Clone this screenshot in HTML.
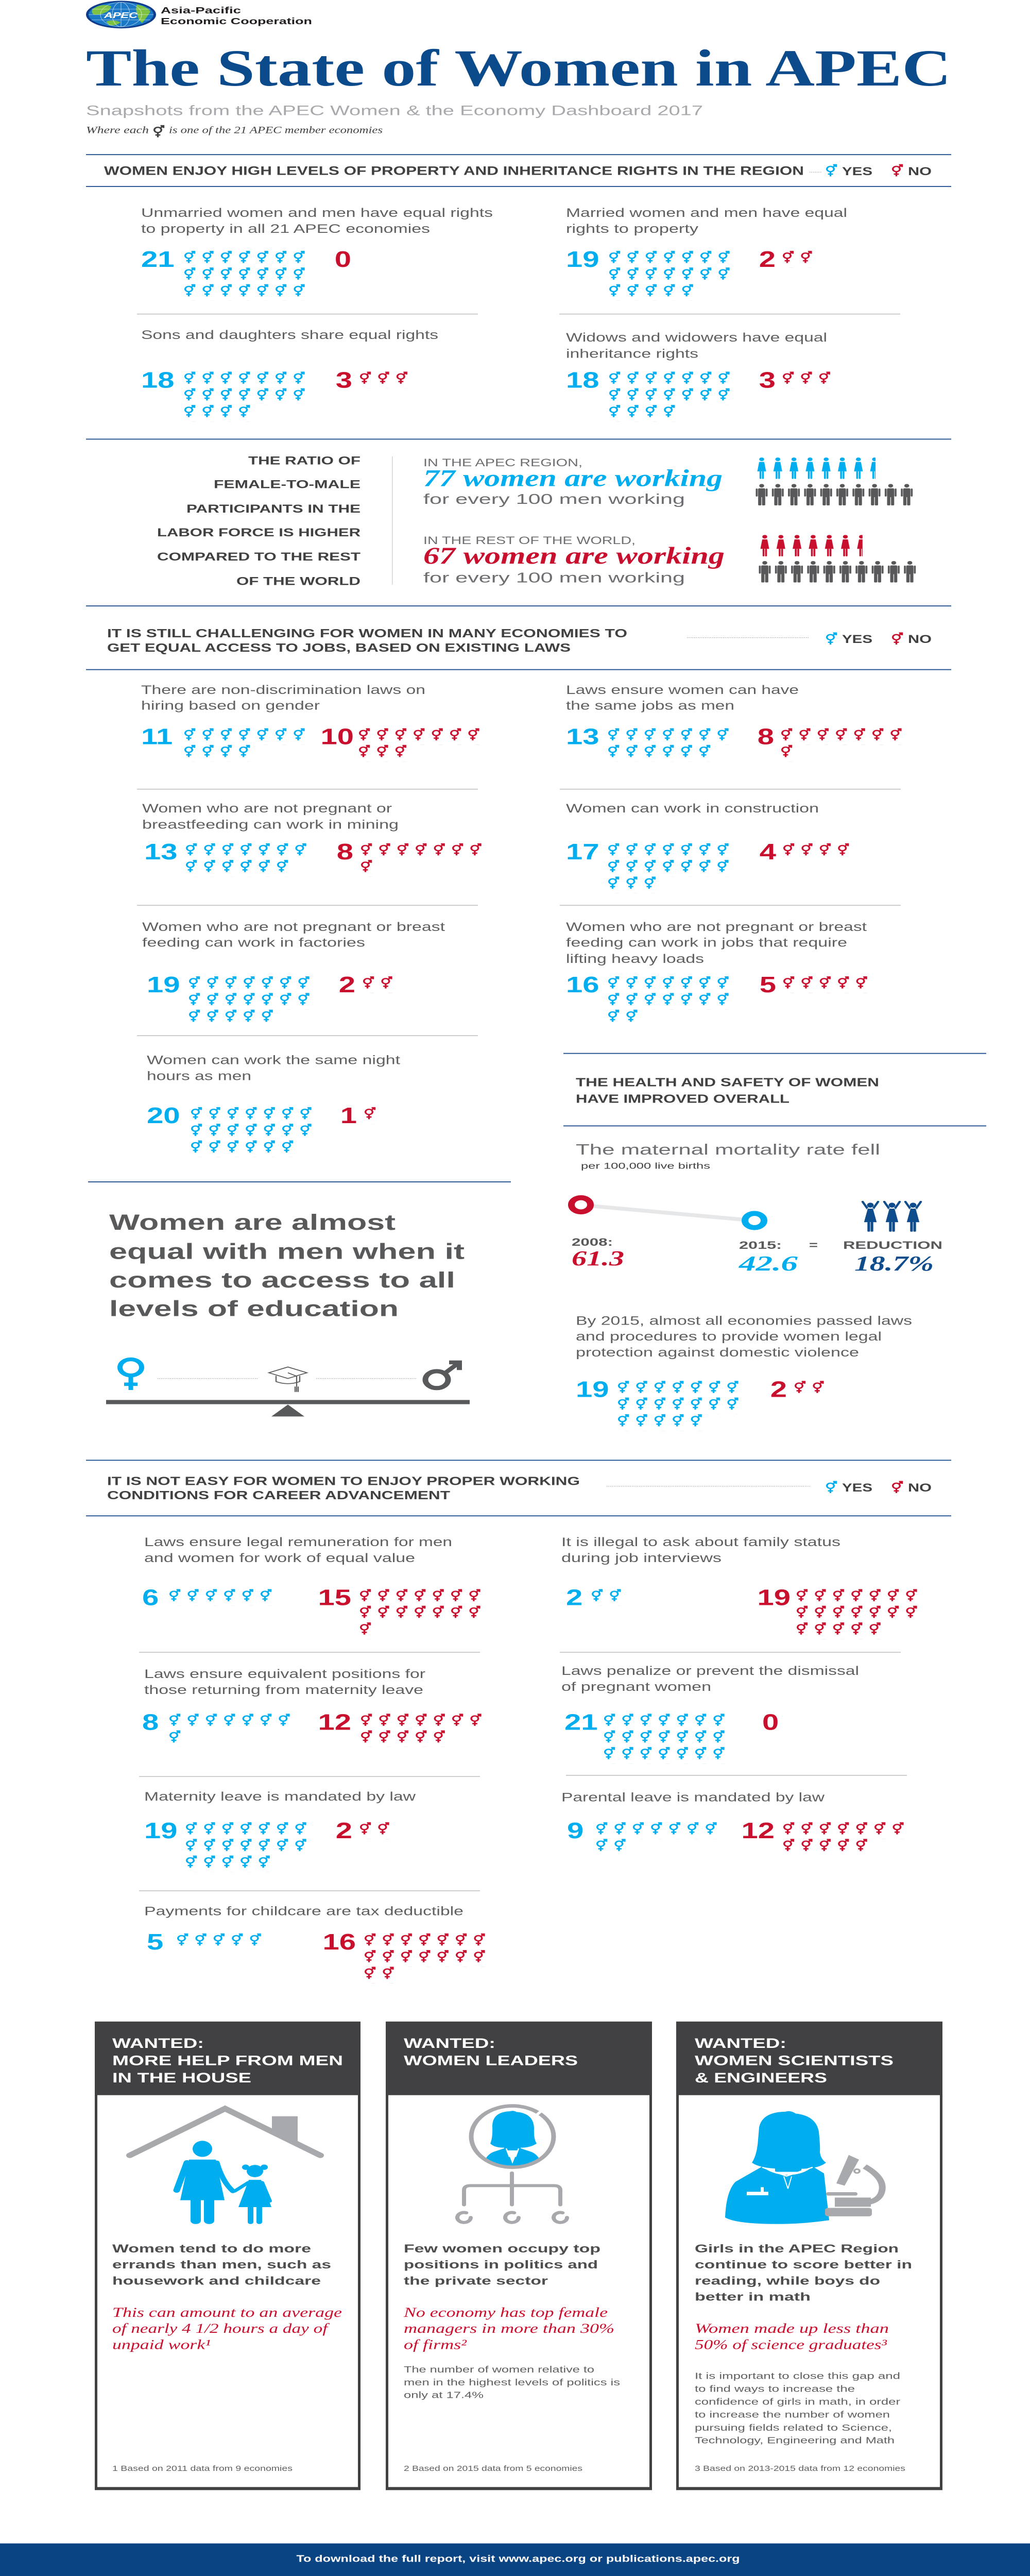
<!DOCTYPE html>
<html>
<head>
<meta charset="utf-8">
<style>
html,body{margin:0;padding:0;background:#fff;width:100%;height:100%;overflow:hidden;}
svg.page{display:block;position:fixed;left:0;top:0;width:100vw;height:100vh;}
.t{font-family:"Liberation Sans",Arial,sans-serif;font-size:32px;fill:#5f6062;}
.h{font-family:"Liberation Sans",Arial,sans-serif;font-weight:bold;fill:#414042;}
.nb{font-family:"Liberation Sans",Arial,sans-serif;font-weight:bold;font-size:58px;fill:#00aeef;}
.nr{font-family:"Liberation Sans",Arial,sans-serif;font-weight:bold;font-size:58px;fill:#c8102e;}
.ri{font-family:"Liberation Serif","Times New Roman",serif;font-style:italic;font-size:36px;fill:#c8102e;}
.bi{font-family:"Liberation Serif","Times New Roman",serif;font-style:italic;font-weight:bold;}
.wh{font-family:"Liberation Sans",Arial,sans-serif;font-weight:bold;font-size:36px;fill:#fff;}
.bx{font-family:"Liberation Sans",Arial,sans-serif;font-weight:bold;font-size:30px;fill:#4d4d4f;}
.sm{font-family:"Liberation Sans",Arial,sans-serif;font-size:24px;fill:#5f6062;}
.fn{font-family:"Liberation Sans",Arial,sans-serif;font-size:20px;fill:#5f6062;}
</style>
</head>
<body>
<svg class="page" width="2000" height="6718" viewBox="0 0 2000 6718" preserveAspectRatio="none" xmlns="http://www.w3.org/2000/svg">
<defs>
  <symbol id="gi" viewBox="0 0 23 32">
    <g fill="none" stroke-width="3.4">
      <circle cx="9.5" cy="12.8" r="6.8"/>
      <path d="M14.3 8 L20.5 1.8 M14.6 1.8 H20.5 V7.7 M9.5 19.6 V32 M4.6 26 H14.4"/>
    </g>
  </symbol>
  <pattern id="pb" width="35.4" height="43.5" patternUnits="userSpaceOnUse">
    <use href="#gi" width="23" height="32" stroke="#00aeef"/>
  </pattern>
  <pattern id="pr" width="35.4" height="43.5" patternUnits="userSpaceOnUse">
    <use href="#gi" width="23" height="32" stroke="#c8102e"/>
  </pattern>
  <symbol id="wom" viewBox="0 0 25 56">
    <circle cx="12.5" cy="4.8" r="4.8"/>
    <path d="M6.4 13 L1.8 29 M18.6 13 L23.2 29" stroke-width="3.2" stroke-linecap="round" fill="none"/>
    <path d="M8.4 11 H16.6 Q17.8 11 18.2 12.5 L21.8 37 H3.2 L6.8 12.5 Q7.2 11 8.4 11Z" stroke="#fff" stroke-width="1.3"/>
    <rect x="8.3" y="36" width="3.6" height="20" rx="1.6"/>
    <rect x="13.1" y="36" width="3.6" height="20" rx="1.6"/>
  </symbol>
  <symbol id="man" viewBox="0 0 25 56">
    <circle cx="12.5" cy="4.8" r="4.8"/>
    <rect x="5.4" y="11.5" width="14.2" height="23" rx="2.5"/>
    <rect x="1" y="12" width="3.7" height="21" rx="1.8"/>
    <rect x="20.3" y="12" width="3.7" height="21" rx="1.8"/>
    <rect x="5.6" y="33" width="6.3" height="23" rx="2"/>
    <rect x="13.1" y="33" width="6.3" height="23" rx="2"/>
  </symbol>
  <pattern id="pwb" width="31.3" height="60" patternUnits="userSpaceOnUse">
    <use href="#wom" width="25" height="56" fill="#00aeef"/>
  </pattern>
  <pattern id="pwr" width="31.3" height="60" patternUnits="userSpaceOnUse">
    <use href="#wom" width="25" height="56" fill="#c8102e"/>
  </pattern>
  <pattern id="pm" width="31.3" height="60" patternUnits="userSpaceOnUse">
    <use href="#man" width="25" height="56" fill="#58585a"/>
  </pattern>
  <symbol id="wup" viewBox="0 0 40 80">
    <circle cx="20" cy="11" r="6"/>
    <path d="M15.5 22 L5 2 M24.5 22 L35 2" stroke-width="4.6" stroke-linecap="round" fill="none"/>
    <path d="M14.5 19.5 H25.5 L33 56 H7 Z" stroke="#fff" stroke-width="1.2"/>
    <rect x="14.8" y="55" width="4.2" height="25" rx="1.6"/>
    <rect x="21" y="55" width="4.2" height="25" rx="1.6"/>
  </symbol>
  <clipPath id="ov"><ellipse cx="995" cy="5572" rx="76" ry="76"/></clipPath>
</defs>

<rect x="0" y="0" width="2000" height="6718" fill="#fff"/>

<!-- ============ HEADER ============ -->
<ellipse cx="235" cy="38" rx="68" ry="36" fill="#0d3c8c"/>
<ellipse cx="235" cy="38" rx="63" ry="32" fill="#1b78c6"/>
<path d="M180 24 Q196 8 216 16 Q214 28 204 33 Q194 40 182 38 Q176 32 180 24Z" fill="#7dc242"/>
<path d="M266 12 Q284 16 292 30 Q286 44 276 60 Q268 52 267 38 Q262 24 266 12Z" fill="#7dc242"/>
<path d="M206 56 Q222 50 234 58 Q226 68 212 66Z" fill="#7dc242"/>
<g fill="none" stroke="#fff" stroke-opacity="0.55" stroke-width="1.2">
<ellipse cx="235" cy="38" rx="40" ry="32"/><ellipse cx="235" cy="38" rx="17" ry="32"/>
<path d="M172 38 H298 M178 24 H292 M178 52 H292 M235 6 V70"/>
</g>
<text x="202" y="47" font-family="Liberation Sans, Arial, sans-serif" font-weight="bold" font-style="italic" font-size="21" fill="#fff" textLength="65" lengthAdjust="spacingAndGlyphs">APEC</text>
<text x="312" y="35" class="h" font-size="24" style="fill:#231f20" textLength="156" lengthAdjust="spacingAndGlyphs">Asia-Pacific</text>
<text x="312" y="63" class="h" font-size="24" style="fill:#231f20" textLength="294" lengthAdjust="spacingAndGlyphs">Economic Cooperation</text>

<text x="167" y="223" font-family="Liberation Serif, Times New Roman, serif" font-weight="bold" font-size="136" fill="#0b4a8b" textLength="1680" lengthAdjust="spacingAndGlyphs">The State of Women in APEC</text>

<text x="167" y="300" font-family="Liberation Sans, Arial, sans-serif" font-size="36" fill="#a7a9ac" textLength="1198" lengthAdjust="spacingAndGlyphs">Snapshots from the APEC Women &amp; the Economy Dashboard 2017</text>

<text x="167" y="347" font-family="Liberation Serif, Times New Roman, serif" font-style="italic" font-size="25" fill="#414042" textLength="122" lengthAdjust="spacingAndGlyphs">Where each</text>
<use href="#gi" x="297" y="326" width="23" height="32" stroke="#414042"/>
<text x="328" y="347" font-family="Liberation Serif, Times New Roman, serif" font-style="italic" font-size="25" fill="#414042" textLength="415" lengthAdjust="spacingAndGlyphs">is one of the 21 APEC member economies</text>

<!-- ============ SECTION 1 ============ -->
<rect x="167" y="402" width="1680" height="2.5" fill="#1f4f8f"/>
<text x="202" y="456" class="h" font-size="32" textLength="1359" lengthAdjust="spacingAndGlyphs">WOMEN ENJOY HIGH LEVELS OF PROPERTY AND INHERITANCE RIGHTS IN THE REGION</text>
<line x1="1572" y1="449" x2="1596" y2="449" stroke="#9a9a9a" stroke-width="1.5" stroke-dasharray="1.5 2"/>
<use href="#gi" x="1603" y="428" width="23" height="32" stroke="#00aeef"/>
<text x="1635" y="457" class="h" font-size="30" textLength="59" lengthAdjust="spacingAndGlyphs">YES</text>
<use href="#gi" x="1731" y="428" width="23" height="32" stroke="#c8102e"/>
<text x="1763" y="457" class="h" font-size="30" textLength="46" lengthAdjust="spacingAndGlyphs">NO</text>
<rect x="167" y="485" width="1680" height="2.5" fill="#1f4f8f"/>

<text class="t" x="274" y="566" textLength="683" lengthAdjust="spacingAndGlyphs">Unmarried women and men have equal rights</text>
<text class="t" x="274" y="607" textLength="561" lengthAdjust="spacingAndGlyphs">to property in all 21 APEC economies</text>
<text class="nb" x="274" y="696">21</text>
<g transform="translate(357,654)"><rect width="247.8" height="130.5" fill="url(#pb)"/></g>
<text class="nr" x="682" y="696" text-anchor="end">0</text>

<text class="t" x="1099" y="566" textLength="546" lengthAdjust="spacingAndGlyphs">Married women and men have equal</text>
<text class="t" x="1099" y="607" textLength="257" lengthAdjust="spacingAndGlyphs">rights to property</text>
<text class="nb" x="1099" y="696">19</text>
<g transform="translate(1182,654)"><rect width="247.8" height="87" fill="url(#pb)"/><rect y="87" width="177" height="43.5" fill="url(#pb)"/></g>
<text class="nr" x="1506" y="696" text-anchor="end">2</text>
<g transform="translate(1519,654)"><rect width="70.8" height="43.5" fill="url(#pr)"/></g>

<rect x="266" y="818" width="662" height="2" fill="#bcbec0"/>
<rect x="1086" y="818" width="662" height="2" fill="#bcbec0"/>

<text class="t" x="274" y="884" textLength="577" lengthAdjust="spacingAndGlyphs">Sons and daughters share equal rights</text>
<text class="nb" x="274" y="1011">18</text>
<g transform="translate(357,969)"><rect width="247.8" height="87" fill="url(#pb)"/><rect y="87" width="141.6" height="43.5" fill="url(#pb)"/></g>
<text class="nr" x="684" y="1011" text-anchor="end">3</text>
<g transform="translate(698,969)"><rect width="106.2" height="43.5" fill="url(#pr)"/></g>

<text class="t" x="1099" y="891" textLength="507" lengthAdjust="spacingAndGlyphs">Widows and widowers have equal</text>
<text class="t" x="1099" y="933" textLength="257" lengthAdjust="spacingAndGlyphs">inheritance rights</text>
<text class="nb" x="1099" y="1011">18</text>
<g transform="translate(1182,969)"><rect width="247.8" height="87" fill="url(#pb)"/><rect y="87" width="141.6" height="43.5" fill="url(#pb)"/></g>
<text class="nr" x="1506" y="1011" text-anchor="end">3</text>
<g transform="translate(1519,969)"><rect width="106.2" height="43.5" fill="url(#pr)"/></g>

<!-- ============ SECTION 2 : RATIO ============ -->
<rect x="167" y="1144" width="1680" height="2.5" fill="#1f4f8f"/>
<g class="h" font-size="30" text-anchor="end">
<text x="700" y="1211" textLength="218" lengthAdjust="spacingAndGlyphs">THE RATIO OF</text>
<text x="700" y="1273" textLength="285" lengthAdjust="spacingAndGlyphs">FEMALE-TO-MALE</text>
<text x="700" y="1337" textLength="338" lengthAdjust="spacingAndGlyphs">PARTICIPANTS IN THE</text>
<text x="700" y="1399" textLength="395" lengthAdjust="spacingAndGlyphs">LABOR FORCE IS HIGHER</text>
<text x="700" y="1462" textLength="395" lengthAdjust="spacingAndGlyphs">COMPARED TO THE REST</text>
<text x="700" y="1526" textLength="241" lengthAdjust="spacingAndGlyphs">OF THE WORLD</text>
</g>
<rect x="761" y="1190" width="1.5" height="335" fill="#d1d3d4"/>

<text x="822" y="1216" font-family="Liberation Sans, Arial, sans-serif" font-size="29" fill="#6d6e71" textLength="309" lengthAdjust="spacingAndGlyphs">IN THE APEC REGION,</text>
<text x="822" y="1268" class="bi" font-size="62" fill="#00aeef" textLength="581" lengthAdjust="spacingAndGlyphs">77 women are working</text>
<text x="822" y="1314" font-family="Liberation Sans, Arial, sans-serif" font-size="37" fill="#6d6e71" textLength="508" lengthAdjust="spacingAndGlyphs">for every 100 men working</text>
<g transform="translate(1466.5,1193)"><rect width="233.6" height="57" fill="url(#pwb)"/></g>
<g transform="translate(1466.5,1262)"><rect width="313" height="57" fill="url(#pm)"/></g>

<text x="822" y="1419" font-family="Liberation Sans, Arial, sans-serif" font-size="29" fill="#6d6e71" textLength="412" lengthAdjust="spacingAndGlyphs">IN THE REST OF THE WORLD,</text>
<text x="822" y="1470" class="bi" font-size="62" fill="#c8102e" textLength="585" lengthAdjust="spacingAndGlyphs">67 women are working</text>
<text x="822" y="1519" font-family="Liberation Sans, Arial, sans-serif" font-size="37" fill="#6d6e71" textLength="508" lengthAdjust="spacingAndGlyphs">for every 100 men working</text>
<g transform="translate(1472.5,1395)"><rect width="202.3" height="57" fill="url(#pwr)"/></g>
<g transform="translate(1472.5,1463)"><rect width="313" height="57" fill="url(#pm)"/></g>

<!-- ============ SECTION 3 : JOBS ============ -->
<rect x="167" y="1579" width="1680" height="2.5" fill="#1f4f8f"/>
<text x="208" y="1662" class="h" font-size="31" textLength="1010" lengthAdjust="spacingAndGlyphs">IT IS STILL CHALLENGING FOR WOMEN IN MANY ECONOMIES TO</text>
<text x="208" y="1700" class="h" font-size="31" textLength="900" lengthAdjust="spacingAndGlyphs">GET EQUAL ACCESS TO JOBS, BASED ON EXISTING LAWS</text>
<line x1="1334" y1="1663" x2="1572" y2="1663" stroke="#9a9a9a" stroke-width="1.5" stroke-dasharray="1.5 2"/>
<use href="#gi" x="1603" y="1649" width="23" height="32" stroke="#00aeef"/>
<text x="1635" y="1677" class="h" font-size="30" textLength="59" lengthAdjust="spacingAndGlyphs">YES</text>
<use href="#gi" x="1731" y="1649" width="23" height="32" stroke="#c8102e"/>
<text x="1763" y="1677" class="h" font-size="30" textLength="46" lengthAdjust="spacingAndGlyphs">NO</text>
<rect x="167" y="1745" width="1680" height="2.5" fill="#1f4f8f"/>

<text class="t" x="274" y="1810" textLength="552" lengthAdjust="spacingAndGlyphs">There are non-discrimination laws on</text>
<text class="t" x="274" y="1851" textLength="347" lengthAdjust="spacingAndGlyphs">hiring based on gender</text>
<text class="nb" x="274" y="1941">11</text>
<g transform="translate(357,1899)"><rect width="247.8" height="43.5" fill="url(#pb)"/><rect y="43.5" width="141.6" height="43.5" fill="url(#pb)"/></g>
<text class="nr" x="687" y="1941" text-anchor="end">10</text>
<g transform="translate(696,1899)"><rect width="247.8" height="43.5" fill="url(#pr)"/><rect y="43.5" width="106.2" height="43.5" fill="url(#pr)"/></g>

<text class="t" x="1099" y="1810" textLength="452" lengthAdjust="spacingAndGlyphs">Laws ensure women can have</text>
<text class="t" x="1099" y="1851" textLength="327" lengthAdjust="spacingAndGlyphs">the same jobs as men</text>
<text class="nb" x="1099" y="1941">13</text>
<g transform="translate(1180,1899)"><rect width="247.8" height="43.5" fill="url(#pb)"/><rect y="43.5" width="212.4" height="43.5" fill="url(#pb)"/></g>
<text class="nr" x="1503" y="1941" text-anchor="end">8</text>
<g transform="translate(1516,1899)"><rect width="247.8" height="43.5" fill="url(#pr)"/><rect y="43.5" width="35.4" height="43.5" fill="url(#pr)"/></g>

<rect x="266" y="2057" width="662" height="2" fill="#bcbec0"/>
<rect x="1087" y="2057" width="662" height="2" fill="#bcbec0"/>

<text class="t" x="276" y="2119" textLength="485" lengthAdjust="spacingAndGlyphs">Women who are not pregnant or</text>
<text class="t" x="276" y="2161" textLength="498" lengthAdjust="spacingAndGlyphs">breastfeeding can work in mining</text>
<text class="nb" x="280" y="2241">13</text>
<g transform="translate(360,2199)"><rect width="247.8" height="43.5" fill="url(#pb)"/><rect y="43.5" width="212.4" height="43.5" fill="url(#pb)"/></g>
<text class="nr" x="686" y="2241" text-anchor="end">8</text>
<g transform="translate(700,2199)"><rect width="247.8" height="43.5" fill="url(#pr)"/><rect y="43.5" width="35.4" height="43.5" fill="url(#pr)"/></g>

<text class="t" x="1099" y="2119" textLength="491" lengthAdjust="spacingAndGlyphs">Women can work in construction</text>
<text class="nb" x="1099" y="2241">17</text>
<g transform="translate(1180,2199)"><rect width="247.8" height="87" fill="url(#pb)"/><rect y="87" width="106.2" height="43.5" fill="url(#pb)"/></g>
<text class="nr" x="1507" y="2241" text-anchor="end">4</text>
<g transform="translate(1520,2199)"><rect width="141.6" height="43.5" fill="url(#pr)"/></g>

<rect x="266" y="2360" width="662" height="2" fill="#bcbec0"/>
<rect x="1087" y="2360" width="662" height="2" fill="#bcbec0"/>

<text class="t" x="276" y="2428" textLength="588" lengthAdjust="spacingAndGlyphs">Women who are not pregnant or breast</text>
<text class="t" x="276" y="2469" textLength="433" lengthAdjust="spacingAndGlyphs">feeding can work in factories</text>
<text class="nb" x="285" y="2588">19</text>
<g transform="translate(366,2546)"><rect width="247.8" height="87" fill="url(#pb)"/><rect y="87" width="177" height="43.5" fill="url(#pb)"/></g>
<text class="nr" x="690" y="2588" text-anchor="end">2</text>
<g transform="translate(704,2546)"><rect width="70.8" height="43.5" fill="url(#pr)"/></g>

<text class="t" x="1099" y="2428" textLength="584" lengthAdjust="spacingAndGlyphs">Women who are not pregnant or breast</text>
<text class="t" x="1099" y="2469" textLength="546" lengthAdjust="spacingAndGlyphs">feeding can work in jobs that require</text>
<text class="t" x="1099" y="2511" textLength="268" lengthAdjust="spacingAndGlyphs">lifting heavy loads</text>
<text class="nb" x="1099" y="2588">16</text>
<g transform="translate(1180,2546)"><rect width="247.8" height="87" fill="url(#pb)"/><rect y="87" width="70.8" height="43.5" fill="url(#pb)"/></g>
<text class="nr" x="1507" y="2588" text-anchor="end">5</text>
<g transform="translate(1520,2546)"><rect width="177" height="43.5" fill="url(#pr)"/></g>

<rect x="266" y="2700" width="662" height="2" fill="#bcbec0"/>

<text class="t" x="285" y="2775" textLength="492" lengthAdjust="spacingAndGlyphs">Women can work the same night</text>
<text class="t" x="285" y="2817" textLength="203" lengthAdjust="spacingAndGlyphs">hours as men</text>
<text class="nb" x="285" y="2929">20</text>
<g transform="translate(370,2887)"><rect width="247.8" height="87" fill="url(#pb)"/><rect y="87" width="212.4" height="43.5" fill="url(#pb)"/></g>
<text class="nr" x="693" y="2929" text-anchor="end">1</text>
<g transform="translate(707,2887)"><rect width="35.4" height="43.5" fill="url(#pr)"/></g>

<!-- Health heading -->
<rect x="1094" y="2746" width="821" height="2.5" fill="#1f4f8f"/>
<text x="1118" y="2833" class="h" font-size="31" textLength="589" lengthAdjust="spacingAndGlyphs">THE HEALTH AND SAFETY OF WOMEN</text>
<text x="1118" y="2876" class="h" font-size="31" textLength="415" lengthAdjust="spacingAndGlyphs">HAVE IMPROVED OVERALL</text>
<rect x="1094" y="2935" width="821" height="2.5" fill="#1f4f8f"/>
<text x="1118" y="3011" font-family="Liberation Sans, Arial, sans-serif" font-size="38" fill="#6d6e71" textLength="591" lengthAdjust="spacingAndGlyphs">The maternal mortality rate fell</text>
<text x="1128" y="3048" font-family="Liberation Sans, Arial, sans-serif" font-size="22" fill="#414042" textLength="251" lengthAdjust="spacingAndGlyphs">per 100,000 live births</text>

<!-- mortality graphic -->
<line x1="1148" y1="3145" x2="1446" y2="3181" stroke="#e6e7e8" stroke-width="10"/>
<circle cx="1128" cy="3142" r="18.5" fill="none" stroke="#c8102e" stroke-width="13"/>
<circle cx="1465" cy="3183" r="18.5" fill="none" stroke="#00aeef" stroke-width="13"/>
<use href="#wup" x="1670" y="3132" width="40" height="80" fill="#0f4c8c" stroke="#0f4c8c"/>
<use href="#wup" x="1712" y="3132" width="40" height="80" fill="#0f4c8c" stroke="#0f4c8c"/>
<use href="#wup" x="1753" y="3132" width="40" height="80" fill="#0f4c8c" stroke="#0f4c8c"/>
<text x="1110" y="3249" class="h" font-size="29" style="fill:#58595b" textLength="80" lengthAdjust="spacingAndGlyphs">2008:</text>
<text x="1110" y="3300" class="bi" font-size="56" fill="#c8102e" textLength="102" lengthAdjust="spacingAndGlyphs">61.3</text>
<text x="1435" y="3257" class="h" font-size="29" style="fill:#58595b" textLength="83" lengthAdjust="spacingAndGlyphs">2015:</text>
<text x="1571" y="3257" class="h" font-size="29" style="fill:#58595b">=</text>
<text x="1637" y="3257" class="h" font-size="29" style="fill:#58595b" textLength="193" lengthAdjust="spacingAndGlyphs">REDUCTION</text>
<text x="1435" y="3313" class="bi" font-size="56" fill="#00aeef" textLength="114" lengthAdjust="spacingAndGlyphs">42.6</text>
<text x="1659" y="3313" class="bi" font-size="56" fill="#0f4c8c" textLength="154" lengthAdjust="spacingAndGlyphs">18.7%</text>

<text class="t" x="1118" y="3455" textLength="653" lengthAdjust="spacingAndGlyphs">By 2015, almost all economies passed laws</text>
<text class="t" x="1118" y="3496" textLength="594" lengthAdjust="spacingAndGlyphs">and procedures to provide women legal</text>
<text class="t" x="1118" y="3538" textLength="550" lengthAdjust="spacingAndGlyphs">protection against domestic violence</text>
<text class="nb" x="1118" y="3643">19</text>
<g transform="translate(1199,3601)"><rect width="247.8" height="87" fill="url(#pb)"/><rect y="87" width="177" height="43.5" fill="url(#pb)"/></g>
<text class="nr" x="1528" y="3643" text-anchor="end">2</text>
<g transform="translate(1542,3601)"><rect width="70.8" height="43.5" fill="url(#pr)"/></g>

<!-- education block -->
<rect x="171" y="3081" width="821" height="2.5" fill="#1f4f8f"/>
<g class="h" font-size="57" style="fill:#58595b">
<text x="212" y="3207" textLength="556" lengthAdjust="spacingAndGlyphs">Women are almost</text>
<text x="212" y="3283" textLength="690" lengthAdjust="spacingAndGlyphs">equal with men when it</text>
<text x="212" y="3358" textLength="672" lengthAdjust="spacingAndGlyphs">comes to access to all</text>
<text x="212" y="3432" textLength="562" lengthAdjust="spacingAndGlyphs">levels of education</text>
</g>
<!-- seesaw -->
<circle cx="254" cy="3566" r="21" fill="none" stroke="#00aeef" stroke-width="10"/>
<path d="M254 3586 V3625 M241 3610 H267" stroke="#00aeef" stroke-width="9" fill="none"/>
<line x1="306" y1="3595" x2="501" y2="3595" stroke="#9a9a9a" stroke-width="1.5" stroke-dasharray="1.5 2"/>
<line x1="614" y1="3595" x2="810" y2="3595" stroke="#9a9a9a" stroke-width="1.5" stroke-dasharray="1.5 2"/>
<g fill="none" stroke="#58595b" stroke-width="2.2">
<path d="M559 3565 L596 3580 L559 3595 L522 3580 Z"/>
<path d="M536 3588 V3603 Q559 3614 582 3603 V3588"/>
<path d="M559 3580 L576 3589 V3616"/>
<path d="M573 3616 V3630 M576 3616 V3630 M579 3616 V3630"/>
</g>
<circle cx="848" cy="3598" r="22" fill="none" stroke="#58595b" stroke-width="11"/>
<path d="M864 3581 L889 3556 M872 3553 H892 V3573" stroke="#58595b" stroke-width="10" fill="none"/>
<rect x="206" y="3651" width="706" height="11" fill="#58595b"/>
<path d="M559 3663 L527 3694 H591 Z" fill="#58595b"/>

<!-- ============ SECTION 4 : WORKING CONDITIONS ============ -->
<rect x="167" y="3807" width="1680" height="2.5" fill="#1f4f8f"/>
<text x="208" y="3873" class="h" font-size="31" textLength="918" lengthAdjust="spacingAndGlyphs">IT IS NOT EASY FOR WOMEN TO ENJOY PROPER WORKING</text>
<text x="208" y="3910" class="h" font-size="31" textLength="666" lengthAdjust="spacingAndGlyphs">CONDITIONS FOR CAREER ADVANCEMENT</text>
<line x1="1178" y1="3876" x2="1574" y2="3876" stroke="#9a9a9a" stroke-width="1.5" stroke-dasharray="1.5 2"/>
<use href="#gi" x="1603" y="3862" width="23" height="32" stroke="#00aeef"/>
<text x="1635" y="3890" class="h" font-size="30" textLength="59" lengthAdjust="spacingAndGlyphs">YES</text>
<use href="#gi" x="1731" y="3862" width="23" height="32" stroke="#c8102e"/>
<text x="1763" y="3890" class="h" font-size="30" textLength="46" lengthAdjust="spacingAndGlyphs">NO</text>
<rect x="167" y="3952" width="1680" height="2.5" fill="#1f4f8f"/>

<text class="t" x="280" y="4032" textLength="598" lengthAdjust="spacingAndGlyphs">Laws ensure legal remuneration for men</text>
<text class="t" x="280" y="4074" textLength="526" lengthAdjust="spacingAndGlyphs">and women for work of equal value</text>
<text class="nb" x="276" y="4186">6</text>
<g transform="translate(328,4144)"><rect width="212.4" height="43.5" fill="url(#pb)"/></g>
<text class="nr" x="682" y="4186" text-anchor="end">15</text>
<g transform="translate(698,4144)"><rect width="247.8" height="87" fill="url(#pr)"/><rect y="87" width="35.4" height="43.5" fill="url(#pr)"/></g>

<text class="t" x="1090" y="4032" textLength="542" lengthAdjust="spacingAndGlyphs">It is illegal to ask about family status</text>
<text class="t" x="1090" y="4074" textLength="311" lengthAdjust="spacingAndGlyphs">during job interviews</text>
<text class="nb" x="1099" y="4186">2</text>
<g transform="translate(1148,4144)"><rect width="70.8" height="43.5" fill="url(#pb)"/></g>
<text class="nr" x="1535" y="4186" text-anchor="end">19</text>
<g transform="translate(1546,4144)"><rect width="247.8" height="87" fill="url(#pr)"/><rect y="87" width="177" height="43.5" fill="url(#pr)"/></g>

<rect x="270" y="4308" width="662" height="2" fill="#bcbec0"/>
<rect x="1087" y="4308" width="662" height="2" fill="#bcbec0"/>

<text class="t" x="280" y="4376" textLength="546" lengthAdjust="spacingAndGlyphs">Laws ensure equivalent positions for</text>
<text class="t" x="280" y="4418" textLength="542" lengthAdjust="spacingAndGlyphs">those returning from maternity leave</text>
<text class="nb" x="276" y="4511">8</text>
<g transform="translate(328,4469)"><rect width="247.8" height="43.5" fill="url(#pb)"/><rect y="43.5" width="35.4" height="43.5" fill="url(#pb)"/></g>
<text class="nr" x="682" y="4511" text-anchor="end">12</text>
<g transform="translate(700,4469)"><rect width="247.8" height="43.5" fill="url(#pr)"/><rect y="43.5" width="177" height="43.5" fill="url(#pr)"/></g>

<text class="t" x="1090" y="4368" textLength="578" lengthAdjust="spacingAndGlyphs">Laws penalize or prevent the dismissal</text>
<text class="t" x="1090" y="4410" textLength="291" lengthAdjust="spacingAndGlyphs">of pregnant women</text>
<text class="nb" x="1096" y="4511">21</text>
<g transform="translate(1172,4469)"><rect width="247.8" height="130.5" fill="url(#pb)"/></g>
<text class="nr" x="1480" y="4511">0</text>

<rect x="270" y="4632" width="662" height="2" fill="#bcbec0"/>
<rect x="1099" y="4629" width="662" height="2" fill="#bcbec0"/>

<text class="t" x="280" y="4696" textLength="527" lengthAdjust="spacingAndGlyphs">Maternity leave is mandated by law</text>
<text class="nb" x="280" y="4794">19</text>
<g transform="translate(360,4752)"><rect width="247.8" height="87" fill="url(#pb)"/><rect y="87" width="177" height="43.5" fill="url(#pb)"/></g>
<text class="nr" x="684" y="4794" text-anchor="end">2</text>
<g transform="translate(698,4752)"><rect width="70.8" height="43.5" fill="url(#pr)"/></g>

<text class="t" x="1090" y="4698" textLength="511" lengthAdjust="spacingAndGlyphs">Parental leave is mandated by law</text>
<text class="nb" x="1101" y="4794">9</text>
<g transform="translate(1157,4752)"><rect width="247.8" height="43.5" fill="url(#pb)"/><rect y="43.5" width="70.8" height="43.5" fill="url(#pb)"/></g>
<text class="nr" x="1504" y="4794" text-anchor="end">12</text>
<g transform="translate(1520,4752)"><rect width="247.8" height="43.5" fill="url(#pr)"/><rect y="43.5" width="177" height="43.5" fill="url(#pr)"/></g>

<rect x="270" y="4930" width="662" height="2" fill="#bcbec0"/>

<text class="t" x="280" y="4995" textLength="620" lengthAdjust="spacingAndGlyphs">Payments for childcare are tax deductible</text>
<text class="nb" x="285" y="5084">5</text>
<g transform="translate(343,5042)"><rect width="177" height="43.5" fill="url(#pb)"/></g>
<text class="nr" x="691" y="5084" text-anchor="end">16</text>
<g transform="translate(707,5042)"><rect width="247.8" height="87" fill="url(#pr)"/><rect y="87" width="70.8" height="43.5" fill="url(#pr)"/></g>

<!-- ============ WANTED BOXES ============ -->
<rect x="184" y="5272" width="516" height="1222" fill="#414042"/>
<rect x="189" y="5464" width="506" height="1022" fill="#fff"/>
<rect x="749" y="5272" width="517" height="1222" fill="#414042"/>
<rect x="754" y="5464" width="507" height="1022" fill="#fff"/>
<rect x="1313" y="5272" width="517" height="1222" fill="#414042"/>
<rect x="1318" y="5464" width="507" height="1022" fill="#fff"/>

<text class="wh" x="218" y="5341" textLength="178" lengthAdjust="spacingAndGlyphs">WANTED:</text>
<text class="wh" x="218" y="5386" textLength="448" lengthAdjust="spacingAndGlyphs">MORE HELP FROM MEN</text>
<text class="wh" x="218" y="5431" textLength="270" lengthAdjust="spacingAndGlyphs">IN THE HOUSE</text>
<text class="wh" x="784" y="5341" textLength="178" lengthAdjust="spacingAndGlyphs">WANTED:</text>
<text class="wh" x="784" y="5386" textLength="338" lengthAdjust="spacingAndGlyphs">WOMEN LEADERS</text>
<text class="wh" x="1349" y="5341" textLength="178" lengthAdjust="spacingAndGlyphs">WANTED:</text>
<text class="wh" x="1349" y="5386" textLength="386" lengthAdjust="spacingAndGlyphs">WOMEN SCIENTISTS</text>
<text class="wh" x="1349" y="5431" textLength="257" lengthAdjust="spacingAndGlyphs">&amp; ENGINEERS</text>

<!-- box 1 icon: house -->
<path d="M252 5621 L437 5499 L622 5621" fill="none" stroke="#a7a9ac" stroke-width="14" stroke-linecap="round" stroke-linejoin="miter"/>
<path d="M528 5519 H578 V5592 L528 5560 Z" fill="#a7a9ac"/>
<g fill="#00aeef">
<ellipse cx="393" cy="5604" rx="19" ry="21"/>
<path d="M367 5632 H419 L436 5738 H350 Z"/>
<rect x="370" y="5730" width="20" height="70" rx="9"/>
<rect x="396" y="5730" width="20" height="70" rx="9"/>
<circle cx="495" cy="5662" r="16"/>
<circle cx="477" cy="5652" r="7"/>
<circle cx="513" cy="5652" r="7"/>
<path d="M483 5685 H507 L527 5756 H463 Z"/>
<rect x="481" y="5750" width="11" height="50" rx="5"/>
<rect x="498" y="5750" width="11" height="50" rx="5"/>
</g>
<g fill="none" stroke="#00aeef" stroke-linecap="round">
<path d="M363 5640 L343 5712" stroke-width="13"/>
<path d="M421 5640 Q432 5690 452 5714" stroke-width="11"/>
<path d="M482 5692 L456 5714" stroke-width="8"/>
<path d="M509 5692 L524 5740" stroke-width="8"/>
</g>

<!-- box 2 icon: leader -->
<g clip-path="url(#ov)" fill="#00aeef">
<path d="M952 5590 Q957 5575 956 5545 Q956 5508 990 5506 Q997 5503 1003 5508 Q1036 5511 1037 5550 Q1036 5578 1042 5590 Q1030 5601 1012 5601 H978 Q960 5601 952 5590Z"/>
<rect x="979" y="5596" width="32" height="12"/>
<path d="M935 5660 Q940 5622 958 5612 L983 5601 L995 5643 L1007 5601 L1032 5612 Q1050 5622 1055 5660 Z"/>
</g>
<path d="M983 5603 L989 5625 M1007 5603 L1001 5625" stroke="#fff" stroke-width="2.5"/>
<ellipse cx="995" cy="5572" rx="80" ry="80" fill="none" stroke="#a7a9ac" stroke-width="9"/>
<line x1="1040" y1="5518" x2="1053" y2="5503" stroke="#fff" stroke-width="6"/>
<g fill="none" stroke="#a7a9ac" stroke-width="8" stroke-linecap="round">
<path d="M994 5667 V5750"/>
<path d="M901 5750 V5712 Q901 5700 913 5700 H1076 Q1088 5700 1088 5712 V5750"/>
<path d="M905.4 5770.8 A13 13 0 1 0 914 5783"/>
<path d="M998.4 5770.8 A13 13 0 1 0 1007 5783"/>
<path d="M1092.4 5770.8 A13 13 0 1 0 1101 5783"/>
</g>

<!-- box 3 icon: scientist -->
<g fill="#00aeef">
<path d="M1460 5640 Q1470 5620 1472 5580 L1474 5548 Q1480 5508 1525 5507 Q1535 5503 1545 5512 Q1585 5518 1590 5560 Q1593 5600 1592 5612 Q1593 5630 1604 5640 Q1590 5655 1560 5656 H1515 Q1475 5655 1460 5640 Z"/>
<rect x="1505" y="5650" width="51" height="14"/>
<path d="M1408 5783 Q1410 5715 1428 5690 L1480 5650 Q1500 5672 1530 5672 Q1560 5672 1578 5650 L1600 5668 L1610 5790 Q1560 5800 1510 5800 Q1430 5800 1408 5783 Z"/>
</g>
<path d="M1480 5652 L1527 5675 L1578 5652" stroke="#fff" stroke-width="3" fill="none"/>
<path d="M1522 5676 L1530 5708 L1537 5676" stroke="#fff" stroke-width="2" fill="none"/>
<rect x="1450" y="5716" width="42" height="9" fill="#fff"/>
<rect x="1477" y="5704" width="6" height="14" fill="#fff"/>
<g fill="#a7a9ac">
<path d="M1648 5620 L1668 5632 L1640 5700 L1624 5694 Z"/>
<rect x="1604" y="5717" width="61" height="9" rx="4"/>
<rect x="1621" y="5731" width="70" height="24"/>
<rect x="1602" y="5758" width="91" height="22" rx="6"/>
</g>
<path d="M1679 5650 Q1716 5678 1713 5710 Q1710 5740 1680 5745" fill="none" stroke="#a7a9ac" stroke-width="13"/>
<circle cx="1664" cy="5662" r="5" fill="#fff" stroke="#a7a9ac" stroke-width="4"/>

<!-- box texts -->
<g class="bx">
<text x="218" y="5874" textLength="386" lengthAdjust="spacingAndGlyphs">Women tend to do more</text>
<text x="218" y="5916" textLength="425" lengthAdjust="spacingAndGlyphs">errands than men, such as</text>
<text x="218" y="5958" textLength="405" lengthAdjust="spacingAndGlyphs">housework and childcare</text>
<text x="784" y="5874" textLength="382" lengthAdjust="spacingAndGlyphs">Few women occupy top</text>
<text x="784" y="5916" textLength="377" lengthAdjust="spacingAndGlyphs">positions in politics and</text>
<text x="784" y="5958" textLength="280" lengthAdjust="spacingAndGlyphs">the private sector</text>
<text x="1349" y="5874" textLength="396" lengthAdjust="spacingAndGlyphs">Girls in the APEC Region</text>
<text x="1349" y="5916" textLength="422" lengthAdjust="spacingAndGlyphs">continue to score better in</text>
<text x="1349" y="5958" textLength="360" lengthAdjust="spacingAndGlyphs">reading, while boys do</text>
<text x="1349" y="6000" textLength="225" lengthAdjust="spacingAndGlyphs">better in math</text>
</g>
<g class="ri">
<text x="218" y="6042" textLength="446" lengthAdjust="spacingAndGlyphs">This can amount to an average</text>
<text x="218" y="6084" textLength="418" lengthAdjust="spacingAndGlyphs">of nearly 4 1/2 hours a day of</text>
<text x="218" y="6126" textLength="191" lengthAdjust="spacingAndGlyphs">unpaid work¹</text>
<text x="784" y="6042" textLength="396" lengthAdjust="spacingAndGlyphs">No economy has top female</text>
<text x="784" y="6084" textLength="409" lengthAdjust="spacingAndGlyphs">managers in more than 30%</text>
<text x="784" y="6126" textLength="122" lengthAdjust="spacingAndGlyphs">of firms²</text>
<text x="1349" y="6084" textLength="377" lengthAdjust="spacingAndGlyphs">Women made up less than</text>
<text x="1349" y="6126" textLength="373" lengthAdjust="spacingAndGlyphs">50% of science graduates³</text>
</g>
<g class="sm">
<text x="784" y="6187" textLength="370" lengthAdjust="spacingAndGlyphs">The number of women relative to</text>
<text x="784" y="6221" textLength="420" lengthAdjust="spacingAndGlyphs">men in the highest levels of politics is</text>
<text x="784" y="6254" textLength="155" lengthAdjust="spacingAndGlyphs">only at 17.4%</text>
<text x="1349" y="6204" textLength="399" lengthAdjust="spacingAndGlyphs">It is important to close this gap and</text>
<text x="1349" y="6238" textLength="311" lengthAdjust="spacingAndGlyphs">to find ways to increase the</text>
<text x="1349" y="6271" textLength="399" lengthAdjust="spacingAndGlyphs">confidence of girls in math, in order</text>
<text x="1349" y="6305" textLength="379" lengthAdjust="spacingAndGlyphs">to increase the number of women</text>
<text x="1349" y="6339" textLength="383" lengthAdjust="spacingAndGlyphs">pursuing fields related to Science,</text>
<text x="1349" y="6372" textLength="388" lengthAdjust="spacingAndGlyphs">Technology, Engineering and Math</text>
</g>
<g class="fn">
<text x="218" y="6444" textLength="350" lengthAdjust="spacingAndGlyphs">1  Based on 2011 data from 9 economies</text>
<text x="784" y="6444" textLength="347" lengthAdjust="spacingAndGlyphs">2  Based on 2015 data from 5 economies</text>
<text x="1349" y="6444" textLength="409" lengthAdjust="spacingAndGlyphs">3  Based on 2013-2015 data from 12 economies</text>
</g>

<!-- ============ FOOTER ============ -->
<rect x="0" y="6633" width="2000" height="85" fill="#0a4482"/>
<text x="1006" y="6681" text-anchor="middle" font-family="Liberation Sans, Arial, sans-serif" font-weight="bold" font-size="25" fill="#fff" textLength="861" lengthAdjust="spacingAndGlyphs">To download the full report, visit www.apec.org or publications.apec.org</text>
</svg>
</body>
</html>
